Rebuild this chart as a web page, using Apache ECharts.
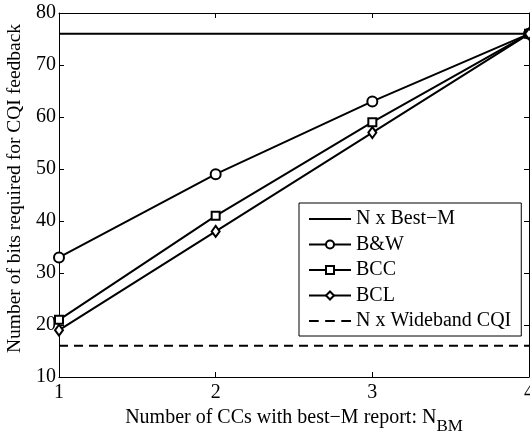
<!DOCTYPE html>
<html>
<head>
<meta charset="utf-8">
<script src="https://cdn.jsdelivr.net/npm/echarts@6/dist/echarts.min.js"></script>
<style>html,body{margin:0;padding:0;background:#fff}#c{width:530px;height:431px}</style>
</head>
<body>
<div id="c"></div>
<script>
const xValues = [1, 2, 3, 4];
const bestM = [76, 76, 76, 76];
const bw = [33, 49, 63, 76];
const bcc = [21, 41, 59, 76];
const bcl = [19, 38, 57, 76];
const wideband = [16, 16, 16, 16];
const seriesNames = ['N x Best\u2212M', 'B&W', 'BCC', 'BCL', 'N x Wideband CQI'];
const yTicks = [10, 20, 30, 40, 50, 60, 70, 80];

const pts = arr => xValues.map((x, i) => [x, arr[i]]);
const FONT = '"Liberation Serif", "Times New Roman", Times, serif';
const FS = 20;
const chart = echarts.init(document.getElementById('c'));
const lineW = 2;
const axisCommon = {
  axisLine: { show: true, onZero: false, lineStyle: { color: '#000', width: 1 } },
  axisTick: { show: true, inside: true, length: 5, lineStyle: { color: '#000', width: 1 } },
  splitLine: { show: false }
};
const solidIcon = 'path://M0,0H42V2H0Z';
const dashIcon = 'path://M0,0H9V2H0Z M15,0H24V2H15Z M30,0H39V2H30Z';
chart.setOption({
  animation: false,
  backgroundColor: '#fff',
  textStyle: { fontFamily: FONT, color: '#000' },
  grid: { left: 59, right: 1, top: 13, bottom: 54, containLabel: false, outerBoundsMode: 'none' },
  legend: {
    orient: 'vertical', left: 299, top: 203,
    padding: [6, 10, 5, 9], itemGap: 5.5, itemWidth: 42, itemHeight: 10,
    borderColor: '#000', borderWidth: 1, borderRadius: 0, backgroundColor: '#fff',
    textStyle: { fontFamily: FONT, fontSize: FS, color: '#000' },
    data: [
      { name: seriesNames[0], icon: solidIcon },
      { name: seriesNames[1] },
      { name: seriesNames[2] },
      { name: seriesNames[3] },
      { name: seriesNames[4], icon: dashIcon }
    ]
  },
  xAxis: [
    Object.assign({ type: 'value', position: 'bottom', min: 1, max: 4, interval: 1,
      axisLabel: { fontFamily: FONT, fontSize: FS, color: '#000', margin: 6 },
      name: 'Number of CCs with best\u2212M report: N{sub|BM}', nameLocation: 'middle', nameGap: 16,
      nameTextStyle: { fontFamily: FONT, fontSize: FS, color: '#000',
        rich: { sub: { fontFamily: FONT, fontSize: 17, color: '#000', padding: [18, 0, 0, 0] } } }
    }, axisCommon),
    Object.assign({ type: 'value', position: 'top', min: 1, max: 4, interval: 1,
      axisLabel: { show: false } }, axisCommon)
  ],
  yAxis: [
    Object.assign({ type: 'value', position: 'left', min: 10, max: 80, interval: 10,
      axisLabel: { fontFamily: FONT, fontSize: FS, color: '#000', margin: 3 },
      name: 'Number of bits required for CQI feedback', nameLocation: 'middle', nameGap: 33,
      nameTextStyle: { fontFamily: FONT, fontSize: 19.5, color: '#000', padding: [0, 0, 0, 13] }
    }, axisCommon),
    Object.assign({ type: 'value', position: 'right', min: 10, max: 80, interval: 10,
      axisLabel: { show: false } }, axisCommon)
  ],
  series: [
    { name: seriesNames[0], type: 'line', data: pts(bestM), symbol: 'none',
      lineStyle: { color: '#000', width: lineW }, itemStyle: { color: '#000' } },
    { name: seriesNames[1], type: 'line', data: pts(bw), symbol: 'emptyCircle', symbolSize: 10,
      lineStyle: { color: '#000', width: lineW }, itemStyle: { color: '#000', borderColor: '#000', borderWidth: 2 } },
    { name: seriesNames[2], type: 'line', data: pts(bcc), symbol: 'emptyRect', symbolSize: 8,
      lineStyle: { color: '#000', width: lineW }, itemStyle: { color: '#000', borderColor: '#000', borderWidth: 2 } },
    { name: seriesNames[3], type: 'line', data: pts(bcl), symbol: 'emptyDiamond', symbolSize: [8, 11],
      lineStyle: { color: '#000', width: lineW }, itemStyle: { color: '#000', borderColor: '#000', borderWidth: 2 } },
    { name: seriesNames[4], type: 'line', data: pts(wideband), symbol: 'none',
      lineStyle: { color: '#000', width: lineW, type: [9, 6] }, itemStyle: { color: '#000' } }
  ]
});
</script>
</body>
</html>
